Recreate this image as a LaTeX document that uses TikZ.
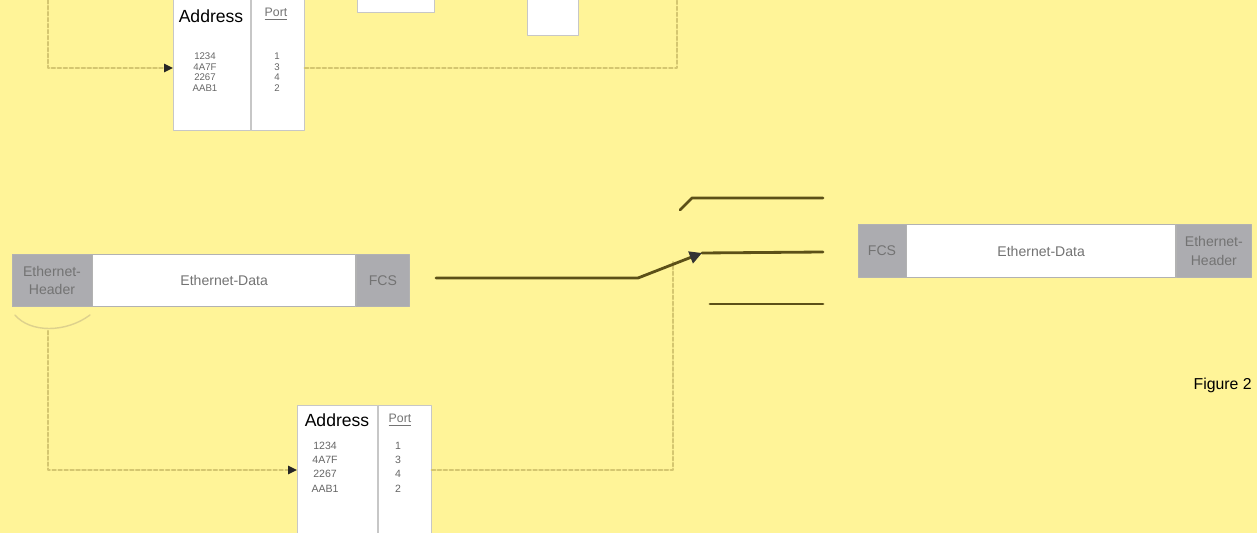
\documentclass[tikz,border=0pt]{standalone}
\usepackage{fontspec}
\setmainfont{Liberation Sans}
\usetikzlibrary{arrows.meta, positioning}

\definecolor{bgyellow}{RGB}{255,244,152}
\definecolor{hdrgrey}{RGB}{172,172,176}
\definecolor{dotline}{RGB}{212,198,112}
\definecolor{swline}{RGB}{92,80,24}

\tikzset{
  field/.style={draw=black!30, line width=0.4pt, minimum height=1.05cm, inner sep=0pt,
    font=\fontsize{8}{10.5}\selectfont, text=black!55, align=center},
  hdrfield/.style={field, fill=hdrgrey},
  datafield/.style={field, fill=white},
  tablecol/.style={draw=black!22, fill=white, line width=0.5pt, inner sep=0pt, anchor=north west},
  colhead/.style={font=\fontsize{10}{12}\selectfont, inner sep=0pt},
  porthead/.style={font=\fontsize{7}{8}\selectfont, text=black!55, inner sep=0pt},
  entries/.style={align=center, text=black!60, inner sep=0pt},
  dotlink/.style={draw=dotline, line width=1.2pt, dash pattern=on 2pt off 1.4pt},
  arrowtip/.style={-{Triangle[length=5pt,width=4.5pt,color=black!85]}},
  contact/.style={draw=swline, line width=1.6pt},
}

\begin{document}
\begin{tikzpicture}[x=0.02cm, y=-0.02cm, line join=round, line cap=round]
\fill[bgyellow] (0,0) rectangle (1257,533);
\useasboundingbox (0,0) rectangle (1257,533);

% top part (cut off)
\node[tablecol, minimum width=1.54cm, minimum height=3cm] (taddr) at (173,-20) {};
\node[tablecol, minimum width=1.06cm, minimum height=3cm] (tport) at (taddr.north east) {};
\node[colhead] (taddrhd) at (211,16) {Address};
\node[porthead] (tporthd) at (276,14) {\underline{Port}};
\node[entries, font=\fontsize{5.5}{6}\selectfont] (tnums) at (205,72) {1234\\4A7F\\2267\\AAB1};
\node[entries, font=\fontsize{5.5}{6}\selectfont] (tports) at (277,72) {1\\3\\4\\2};
\node[tablecol, minimum width=1.54cm, minimum height=0.64cm] (tbox1) at (357,-20) {};
\node[tablecol, minimum width=1.02cm, minimum height=1.1cm] (tbox2) at (527,-20) {};

\coordinate (tin) at (48,0);
\coordinate (tout) at (677,0);
\draw[dotlink, arrowtip] (tin) |- (taddr.west |- 0,68);
\draw[dotlink] (tport.east |- 0,68) -| (tout);

% incoming frame
\node[hdrfield, minimum width=1.6cm] (lhdr) at (52,280.5) {Ethernet-\\Header};
\node[datafield, minimum width=5.26cm, right=0pt of lhdr] (ldata) {Ethernet-Data};
\node[hdrfield, minimum width=1.06cm, right=0pt of ldata] (lfcs) {FCS};
\draw[dotline!80, line width=0.8pt] (15,315) .. controls (30,333) and (66,333) .. (90,315);

% address table
\node[tablecol, minimum width=1.6cm, minimum height=3cm] (baddr) at (297,405) {};
\node[tablecol, minimum width=1.06cm, minimum height=3cm] (bport) at (baddr.north east) {};
\node[colhead] (baddrhd) at (337,420) {Address};
\node[porthead] (bporthd) at (400,420) {\underline{Port}};
\node[entries, font=\fontsize{6}{8.2}\selectfont] (bnums) at (325,467) {1234\\4A7F\\2267\\AAB1};
\node[entries, font=\fontsize{6}{8.2}\selectfont] (bports) at (398,467) {1\\3\\4\\2};

\coordinate (look) at (48,331);
\coordinate (ctrl) at (673,262);
\draw[dotlink, arrowtip] (look) |- (baddr.west |- 0,470);
\draw[dotlink] (bport.east |- 0,470) -| (ctrl);

% switch
\coordinate (swin) at (436,278);
\coordinate (swbend) at (638,278);
\coordinate (swtip) at (702,253);
\coordinate (c1a) at (680,210);
\coordinate (c1b) at (692,198);
\coordinate (c1c) at (823,198);
\coordinate (c2b) at (823,252);
\coordinate (c3a) at (710,304);
\coordinate (c3b) at (823,304);
\draw[contact] (c1a) -- (c1b) -- (c1c);
\draw[contact] (swtip) -- (c2b);
\draw[contact] (c3a) -- (c3b);
\draw[contact, -{Triangle[length=7pt,width=7pt,color=black!80]}] (swin) -- (swbend) -- (swtip);

% outgoing frame
\node[hdrfield, minimum width=0.96cm] (rfcs) at (882,251) {FCS};
\node[datafield, minimum width=5.38cm, right=0pt of rfcs] (rdata) {Ethernet-Data};
\node[hdrfield, minimum width=1.5cm, right=0pt of rdata] (rhdr) {Ethernet-\\Header};

\node[anchor=east, font=\fontsize{9}{11}\selectfont, inner sep=0pt] (figlabel) at (1252,385) {Figure 2};
\end{tikzpicture}
\end{document}
